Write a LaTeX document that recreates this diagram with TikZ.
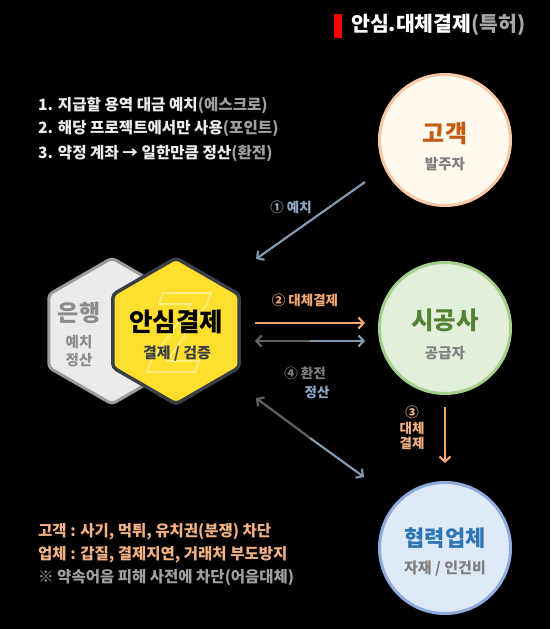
\documentclass[tikz,border=0pt]{standalone}
\usepackage{fontspec}
\setmainfont{Noto Sans CJK KR}
\usetikzlibrary{arrows.meta}
\definecolor{bg}{HTML}{000000}
\definecolor{titlegray}{HTML}{A6A6A6}
\definecolor{listwhite}{HTML}{EDEDED}
\definecolor{listgray}{HTML}{A0A0A0}
\definecolor{steel}{HTML}{8497B0}
\definecolor{steeltext}{HTML}{8FA8C8}
\definecolor{orangeln}{HTML}{F2A673}
\definecolor{orangetx}{HTML}{F4B183}
\definecolor{darkarrow}{HTML}{626262}
\definecolor{grayarrow}{HTML}{7F7F7F}
\definecolor{subgray}{HTML}{7F7F7F}
\definecolor{cliFill}{HTML}{FFF9EE}
\definecolor{cliLine}{HTML}{F8C8A4}
\definecolor{cliText}{HTML}{C55A11}
\definecolor{conFill}{HTML}{E2EFDA}
\definecolor{conLine}{HTML}{A3D08A}
\definecolor{conText}{HTML}{548235}
\definecolor{parFill}{HTML}{DEEBF7}
\definecolor{parLine}{HTML}{8FAADC}
\definecolor{parText}{HTML}{2E75B6}
\definecolor{hexY}{HTML}{FFDF2E}
\definecolor{hexYline}{HTML}{3A3E45}
\definecolor{hexZ}{HTML}{FFEE85}
\definecolor{hexG}{HTML}{EBEBEB}
\definecolor{hexGline}{HTML}{9C9C9C}
\definecolor{hexGtext}{HTML}{8C8C8C}
\newcommand\szf[1]{\fontsize{#1}{#1}\selectfont}
\begin{document}
\begin{tikzpicture}[x=1pt,y=-1pt,
  txt/.style={inner sep=0pt},
  ltxt/.style={inner sep=0pt, anchor=west},
  sz/.style={font=\bfseries\szf{#1}},
  party/.style={circle, minimum size=131pt, line width=3pt, inner sep=0pt},
  arr/.style={line width=2.2pt, -{Straight Barb[length=5pt,width=11pt]}},
  rarr/.style={line width=2.2pt, {Straight Barb[length=5pt,width=11pt]}-}]
\useasboundingbox (0,0) rectangle (550,629);
\fill[bg] (0,0) rectangle (550,629);

% title
\fill[red] (334,14) rectangle (342,38);
\node[ltxt, sz=20.5, text=white] (title) at (351,25) {안심.대체결제\textcolor{titlegray}{(특허)}};

% list
\node[ltxt, sz=15.6, text=listwhite] (l1) at (38,105) {1. 지급할 용역 대금 예치\textcolor{listgray}{(에스크로)}};
\node[ltxt, sz=15.6, text=listwhite] (l2) at (38,129) {2. 해당 프로젝트에서만 사용\textcolor{listgray}{(포인트)}};
\node[ltxt, sz=15.6, text=listwhite] (l3) at (38,153) {3. 약정 계좌 → 일한만큼 정산\textcolor{listgray}{(환전)}};

% parties
\node[party, draw=cliLine, fill=cliFill] (client) at (445,140) {};
\node[txt, sz=24, text=cliText] (clientT) at (445,134) {고객};
\node[txt, sz=14.5, text=subgray] (clientS) at (445,164) {발주자};

\node[party, draw=conLine, fill=conFill] (contractor) at (445,328) {};
\node[txt, sz=24.5, text=conText] (contrT) at (445,320) {시공사};
\node[txt, sz=14.5, text=subgray] (contrS) at (445,353) {공급자};

\node[party, draw=parLine, fill=parFill] (partner) at (445,548) {};
\node[txt, sz=22, text=parText] (partT) at (445,538) {협력업체};
\node[txt, sz=15, text=subgray] (partS) at (445,569) {자재 / 인건비};

% hexagons
\draw[fill=hexG, draw=hexGline, line width=3pt, rounded corners=4pt]
  (112,258) -- (175.2,294.5) -- (175.2,367.5) -- (112,404) -- (48.8,367.5) -- (48.8,294.5) -- cycle;
\draw[fill=hexY, draw=hexYline, line width=3.5pt, rounded corners=4pt]
  (176,258) -- (239.2,294.5) -- (239.2,367.5) -- (176,404) -- (112.8,367.5) -- (112.8,294.5) -- cycle;
\draw[hexZ, line width=1.6pt, line join=miter]
  (163,293) -- (211,293) -- (207,304) -- (167,361) -- (199,361) -- (195,372) -- (147,372) -- (151,361) -- (191,304) -- (159,304) -- cycle;

\node[txt, sz=23, text=hexGtext] (bankT) at (79,313) {은행};
\node[txt, sz=14.5, text=hexGtext] (bankS1) at (79,342) {예치};
\node[txt, sz=14.5, text=hexGtext] (bankS2) at (79,360) {정산};
\node[txt, sz=25.5, text=black] (safeT) at (176,322) {안심결제};
\node[txt, sz=15, text=hexYline] (safeS) at (177,354) {결제 / 검증};

% arrow anchor coordinates
\coordinate (a1s) at (365,182);
\coordinate (a1e) at (256,259);
\coordinate (a2s) at (255,323);
\coordinate (a2e) at (365,323);
\coordinate (a4s) at (255,341);
\coordinate (a4m) at (310,341);
\coordinate (a4e) at (365,341);
\coordinate (a5s) at (256,398);
\coordinate (a5m) at (310,438);
\coordinate (a5e) at (364,477);
\coordinate (a3s) at (445,407);
\coordinate (a3e) at (445,463);

\draw[arr, steel] (a1s) -- (a1e);
\draw[arr, orangeln] (a2s) -- (a2e);
\draw[rarr, darkarrow] (a4s) -- (a4m);
\draw[arr, steel] (a4m) -- (a4e);
\draw[rarr, darkarrow] (a5s) -- (a5m);
\draw[arr, steel] (a5m) -- (a5e);
\draw[arr, orangeln] (a3s) -- (a3e);

% arrow labels
\node[txt, sz=13.5, text=steeltext] (lab1) at (291,207) {① 예치};
\node[txt, sz=13.5, text=orangeln] (lab2) at (305,300) {② 대체결제};
\node[txt, sz=13.5, text=grayarrow] (lab4a) at (305,373) {④ 환전};
\node[txt, sz=13.5, text=steeltext] (lab4b) at (317,392) {정산};
\node[txt, sz=13.5, text=orangetx, align=center] (lab3) at (412,428) {③\\[2pt]대체\\[2pt]결제};

% bottom notes
\node[ltxt, sz=15.5, text=orangetx] (n1) at (38,532) {고객 : 사기, 먹튀, 유치권(분쟁) 차단};
\node[ltxt, sz=15.5, text=orangetx] (n2) at (38,555) {업체 : 갑질, 결제지연, 거래처 부도방지};
\node[ltxt, sz=15.5, text=listgray] (n3) at (38,578) {※ 약속어음 피해 사전에 차단(어음대체)};
\end{tikzpicture}
\end{document}
